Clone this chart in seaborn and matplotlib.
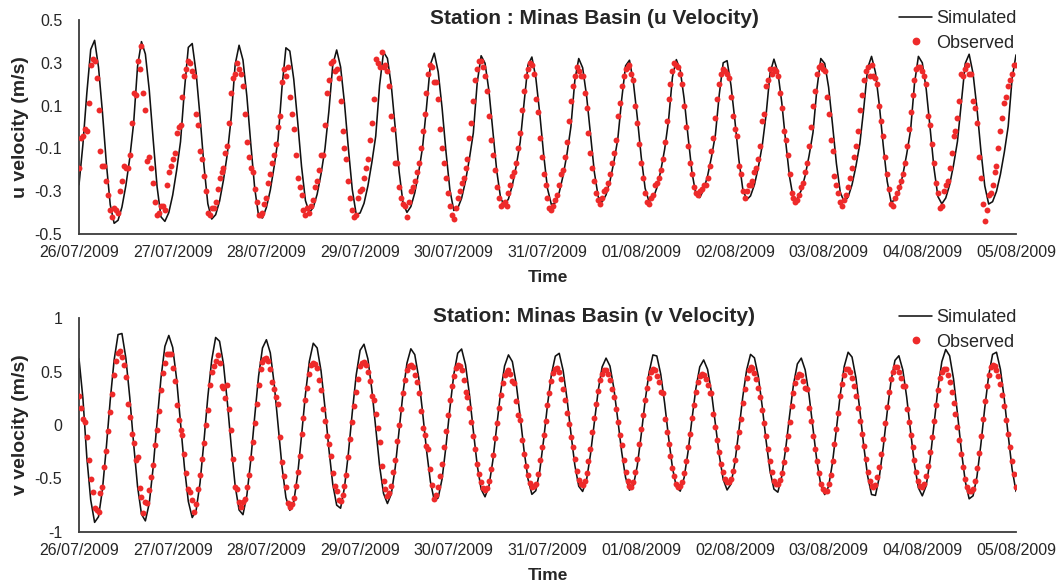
import numpy as np
import pandas as pd
import matplotlib
matplotlib.use("Agg")
import matplotlib.pyplot as plt
from matplotlib.lines import Line2D
import seaborn as sns

sns.set_theme(style="white")
plt.rcParams['font.family'] = ['Liberation Sans', 'DejaVu Sans']

# ---------------- data ----------------
start = pd.Timestamp("2009-07-26 00:00")
end = pd.Timestamp("2009-08-05 00:00")
date_labels = ["26/07/2009", "27/07/2009", "28/07/2009", "29/07/2009", "30/07/2009",
               "31/07/2009", "01/08/2009", "02/08/2009", "03/08/2009", "04/08/2009",
               "05/08/2009"]
u_ticks = [-0.5, -0.3, -0.1, 0.1, 0.3, 0.5]
u_tick_labels = ["-0.5", "-0.3", "-0.1", "0.1", "0.3", "0.5"]
v_ticks = [-1, -0.5, 0, 0.5, 1]
v_tick_labels = ["-1", "-0.5", "0", "0.5", "1"]
titles = ["Station : Minas Basin (u Velocity)", "Station: Minas Basin (v Velocity)"]
ylabels = ["u velocity (m/s)", "v velocity (m/s)"]
series_names = ["Simulated", "Observed"]

# simulated, hourly from 26/07/2009 00:00
u_sim = [
    -0.27, -0.082, 0.157, 0.362, 0.405, 0.279, 0.070, -0.168, -0.363, -0.450, -0.436, -0.374,
    -0.274, -0.146, 0.019, 0.284, 0.399, 0.341, 0.172, -0.059, -0.279, -0.420, -0.441, -0.400,
    -0.318, -0.203, -0.069, 0.172, 0.372, 0.390, 0.253, 0.048, -0.180, -0.359, -0.430, -0.410,
    -0.347, -0.248, -0.125, 0.048, 0.292, 0.382, 0.313, 0.143, -0.079, -0.285, -0.415, -0.425,
    -0.376, -0.295, -0.183, -0.055, 0.187, 0.370, 0.355, 0.224, 0.027, -0.184, -0.344, -0.400,
    -0.376, -0.314, -0.219, -0.102, 0.073, 0.291, 0.360, 0.281, 0.112, -0.101, -0.293, -0.408,
    -0.402, -0.357, -0.275, -0.167, -0.043, 0.196, 0.350, 0.321, 0.192, -0.004, -0.209, -0.356,
    -0.399, -0.372, -0.308, -0.212, -0.095, 0.090, 0.292, 0.345, 0.258, 0.089, -0.116, -0.294,
    -0.390, -0.380, -0.333, -0.253, -0.147, -0.028, 0.208, 0.333, 0.298, 0.169, -0.016, -0.205,
    -0.334, -0.365, -0.336, -0.272, -0.181, -0.071, 0.113, 0.290, 0.327, 0.231, 0.066, -0.126,
    -0.288, -0.363, -0.354, -0.306, -0.227, -0.125, 0.002, 0.218, 0.320, 0.277, 0.147, -0.034,
    -0.211, -0.327, -0.350, -0.317, -0.253, -0.163, -0.057, 0.129, 0.286, 0.312, 0.208, 0.045,
    -0.139, -0.286, -0.349, -0.335, -0.285, -0.206, -0.105, 0.030, 0.233, 0.315, 0.265, 0.132,
    -0.044, -0.211, -0.315, -0.330, -0.293, -0.229, -0.140, -0.037, 0.153, 0.300, 0.310, 0.194,
    0.030, -0.150, -0.288, -0.340, -0.322, -0.270, -0.188, -0.087, 0.059, 0.252, 0.317, 0.257,
    0.115, -0.067, -0.233, -0.338, -0.334, -0.296, -0.227, -0.134, -0.026, 0.177, 0.320, 0.297,
    0.186, 0.012, -0.171, -0.306, -0.350, -0.327, -0.270, -0.183, -0.078, 0.086, 0.275, 0.330,
    0.255, 0.102, -0.087, -0.253, -0.350, -0.342, -0.299, -0.225, -0.127, -0.015, 0.203, 0.330,
    0.300, 0.177, -0.005, -0.193, -0.325, -0.359, -0.332, -0.270, -0.178, -0.068, 0.113, 0.297,
    0.340, 0.250, 0.087, -0.109, -0.275, -0.360, -0.349, -0.301, -0.222, -0.119, 0.003, 0.227,
    0.337,
]
v_sim = [
    0.62, 0.25, -0.30, -0.70, -0.91, -0.857, -0.605, -0.209, 0.233, 0.608, 0.845, 0.855,
    0.626, 0.259, -0.178, -0.575, -0.833, -0.896, -0.730, -0.395, 0.031, 0.440, 0.735, 0.837,
    0.725, 0.430, 0.023, -0.392, -0.714, -0.865, -0.798, -0.541, -0.154, 0.264, 0.609, 0.818,
    0.783, 0.571, 0.212, -0.201, -0.568, -0.794, -0.838, -0.656, -0.327, 0.078, 0.457, 0.720,
    0.797, 0.674, 0.382, -0.005, -0.390, -0.678, -0.798, -0.720, -0.466, -0.100, 0.287, 0.595,
    0.764, 0.720, 0.505, 0.162, -0.223, -0.554, -0.749, -0.778, -0.583, -0.264, 0.119, 0.467,
    0.698, 0.755, 0.617, 0.333, -0.031, -0.385, -0.640, -0.734, -0.644, -0.396, -0.051, 0.303,
    0.578, 0.712, 0.658, 0.445, 0.122, -0.232, -0.527, -0.705, -0.681, -0.503, -0.197, 0.156,
    0.472, 0.671, 0.710, 0.563, 0.287, -0.053, -0.377, -0.600, -0.671, -0.571, -0.332, -0.012,
    0.309, 0.551, 0.655, 0.592, 0.383, 0.081, -0.241, -0.504, -0.648, -0.614, -0.433, -0.141,
    0.188, 0.472, 0.643, 0.670, 0.510, 0.244, -0.078, -0.375, -0.572, -0.621, -0.514, -0.277,
    0.028, 0.326, 0.543, 0.625, 0.551, 0.342, 0.051, -0.252, -0.491, -0.609, -0.565, -0.379,
    -0.092, 0.223, 0.488, 0.655, 0.645, 0.476, 0.205, -0.113, -0.398, -0.579, -0.618, -0.491,
    -0.249, 0.053, 0.340, 0.543, 0.608, 0.520, 0.305, 0.011, -0.284, -0.508, -0.607, -0.552,
    -0.351, -0.057, 0.258, 0.513, 0.660, 0.628, 0.455, 0.173, -0.150, -0.431, -0.599, -0.628,
    -0.480, -0.224, 0.087, 0.376, 0.571, 0.625, 0.515, 0.277, -0.033, -0.338, -0.561, -0.650,
    -0.574, -0.352, -0.039, 0.288, 0.547, 0.680, 0.635, 0.441, 0.140, -0.195, -0.478, -0.650,
    -0.658, -0.484, -0.206, 0.119, 0.414, 0.604, 0.647, 0.516, 0.261, -0.061, -0.370, -0.587,
    -0.662, -0.567, -0.326, 0.003, 0.336, 0.591, 0.706, 0.647, 0.431, 0.109, -0.238, -0.526,
    -0.690, -0.662, -0.482, -0.182, 0.161, 0.461, 0.660, 0.680, 0.522, 0.244, -0.095, -0.412,
    -0.621,
]

# observed, every 30 minutes from 26/07/2009 00:00
u_obs = [
    -0.19, -0.05, -0.04, -0.01, -0.02, 0.11, 0.29,
    0.32, 0.31, 0.23, 0.08, -0.11, -0.18, -0.18, -0.25, -0.32, -0.39, -0.42, -0.38, -0.39, -0.40, -0.30, -0.25, -0.18, -0.19, -0.19, -0.13, 0.02, 0.16, 0.15, 0.31, 0.27,
    0.38, 0.16, 0.08, -0.16, -0.14, -0.19, -0.26, -0.35, -0.41, -0.40, -0.37, -0.37, -0.39, -0.27, -0.21, -0.18, -0.15, -0.12, -0.03, 0.00, 0.01, 0.14, 0.24, 0.27, 0.31,
    0.30, 0.26, 0.24, 0.06, 0.01, -0.11, -0.15, -0.23, -0.30, -0.40, -0.41, -0.38, -0.38, -0.35, -0.29, -0.24, -0.21, -0.19, -0.12, -0.09, 0.02, 0.16, 0.23, 0.25, 0.30,
    0.27, 0.25, 0.19, 0.06, -0.07, -0.14, -0.19, -0.21, -0.29, -0.35, -0.41, -0.41, -0.40, -0.36, -0.33, -0.26, -0.22, -0.17, -0.13, -0.08, 0.00, 0.05, 0.21, 0.27, 0.24,
    0.28, 0.14, 0.06, -0.01, -0.13, -0.24, -0.28, -0.32, -0.39, -0.41, -0.38, -0.40, -0.37, -0.34, -0.28, -0.25, -0.20, -0.13, -0.13, 0.01, 0.16, 0.22, 0.30, 0.31,
    0.26, 0.27, 0.23, 0.12, -0.02, -0.10, -0.15, -0.25, -0.33, -0.39, -0.42, -0.41, -0.33, -0.30, -0.29, -0.24, -0.19, -0.15, -0.06, 0.02, 0.13, 0.32, 0.30, 0.28, 0.35,
    0.28, 0.29, 0.26, 0.19, 0.05, -0.01, -0.17, -0.17, -0.28, -0.33, -0.36, -0.37, -0.42, -0.35, -0.30, -0.28, -0.25, -0.21, -0.17, -0.10, -0.02, 0.06, 0.16, 0.25, 0.29,
    0.28, 0.21, 0.21, 0.13, -0.01, -0.10, -0.17, -0.24, -0.31, -0.37, -0.41, -0.43, -0.38, -0.33, -0.30, -0.26, -0.24, -0.19, -0.15, -0.05, 0.02, 0.12, 0.22, 0.27, 0.31,
    0.31, 0.28, 0.24, 0.17, 0.05, -0.06, -0.13, -0.20, -0.28, -0.33, -0.37, -0.36, -0.35, -0.37, -0.31, -0.27, -0.23, -0.21, -0.17, -0.10, -0.03, 0.08, 0.17, 0.24, 0.27,
    0.30, 0.29, 0.25, 0.13, 0.07, -0.05, -0.14, -0.22, -0.27, -0.33, -0.38, -0.39, -0.37, -0.34, -0.32, -0.27, -0.22, -0.20, -0.14, -0.07, 0.03, 0.12, 0.19, 0.24, 0.28,
    0.26, 0.24, 0.24, 0.16, 0.09, -0.03, -0.12, -0.19, -0.25, -0.31, -0.34, -0.36, -0.33, -0.30, -0.29, -0.26, -0.22, -0.17, -0.12, -0.06, 0.05, 0.11, 0.19, 0.24, 0.27,
    0.28, 0.29, 0.25, 0.22, 0.10, 0.02, -0.08, -0.17, -0.24, -0.31, -0.35, -0.36, -0.33, -0.32, -0.27, -0.26, -0.24, -0.20, -0.15, -0.07, 0.03, 0.13, 0.20, 0.26, 0.30,
    0.29, 0.28, 0.25, 0.20, 0.10, 0.00, -0.09, -0.17, -0.22, -0.28, -0.31, -0.32, -0.30, -0.29, -0.27, -0.27, -0.24, -0.18, -0.11, -0.05, 0.04, 0.13, 0.20, 0.25, 0.27,
    0.26, 0.25, 0.23, 0.14, 0.05, -0.01, -0.04, -0.18, -0.22, -0.30, -0.33, -0.30, -0.27, -0.27, -0.25, -0.21, -0.19, -0.15, -0.09, 0.03, 0.06, 0.19, 0.22, 0.27, 0.25,
    0.27, 0.26, 0.24, 0.16, 0.09, -0.02, -0.06, -0.13, -0.22, -0.31, -0.33, -0.35, -0.34, -0.32, -0.28, -0.26, -0.21, -0.17, -0.09, 0.00, 0.10, 0.17, 0.25, 0.28,
    0.29, 0.27, 0.26, 0.14, 0.06, -0.06, -0.11, -0.23, -0.27, -0.31, -0.35, -0.37, -0.34, -0.32, -0.28, -0.24, -0.19, -0.14, -0.09, -0.02, 0.08, 0.15, 0.22, 0.26, 0.28,
    0.24, 0.29, 0.24, 0.23, 0.20, 0.10, 0.03, -0.04, -0.14, -0.22, -0.29, -0.36, -0.37, -0.33, -0.31, -0.28, -0.25, -0.22, -0.17, -0.09, -0.01, 0.07, 0.15, 0.22, 0.27,
    0.28, 0.28, 0.26, 0.24, 0.20, 0.05, 0.01, -0.08, -0.17, -0.26, -0.31, -0.38, -0.37, -0.30, -0.27, -0.25, -0.19, -0.12, -0.04, -0.02, 0.04, 0.12, 0.25, 0.24, 0.27,
    0.29, 0.25, 0.25, 0.12, 0.09, 0.02, -0.14, -0.24, -0.36, -0.44, -0.39, -0.32, -0.31, -0.27, -0.21, -0.18, -0.10, -0.02, 0.04, 0.11, 0.14, 0.19, 0.22, 0.25, 0.29,
    0.29,
]
v_obs = [
    0.27, 0.16, 0.06, 0.03, -0.11, -0.33, -0.50, -0.63, -0.78,
    -0.79, -0.81, -0.64, -0.58, -0.39, -0.24, -0.06, 0.12, 0.29, 0.47, 0.60, 0.675, 0.69, 0.64, 0.565, 0.45, 0.20, 0.075, -0.08, -0.17, -0.325, -0.30, -0.59, -0.67, -0.825,
    -0.72, -0.73, -0.61, -0.49, -0.37, -0.19, -0.05, 0.13, 0.33, 0.49, 0.58, 0.66, 0.66, 0.66, 0.53, 0.41, 0.19, 0.05, -0.05, -0.09, -0.27, -0.45, -0.60, -0.63, -0.70,
    -0.81, -0.74, -0.60, -0.47, -0.32, -0.17, 0.00, 0.14, 0.37, 0.50, 0.55, 0.60, 0.65, 0.58, 0.36, 0.35, 0.25, 0.37, 0.15, -0.05, -0.32, -0.58, -0.60, -0.72, -0.77,
    -0.72, -0.69, -0.58, -0.47, -0.31, -0.16, 0.02, 0.20, 0.37, 0.52, 0.59, 0.62, 0.63, 0.60, 0.52, 0.40, 0.34, 0.26, 0.20, -0.11, -0.35, -0.48, -0.58, -0.73, -0.77,
    -0.74, -0.68, -0.57, -0.44, -0.29, -0.08, 0.07, 0.23, 0.35, 0.48, 0.56, 0.58, 0.57, 0.53, 0.42, 0.33, 0.15, 0.04, -0.10, -0.18, -0.29, -0.45, -0.57, -0.62, -0.70,
    -0.71, -0.65, -0.57, -0.47, -0.30, -0.13, 0.03, 0.18, 0.31, 0.43, 0.55, 0.58, 0.59, 0.56, 0.50, 0.41, 0.27, 0.23, 0.10, -0.03, -0.16, -0.38, -0.52, -0.60,
    -0.66, -0.64, -0.57, -0.44, -0.33, -0.15, 0.00, 0.15, 0.30, 0.42, 0.51, 0.55, 0.56, 0.54, 0.47, 0.40, 0.30, 0.13, -0.03, -0.09, -0.20, -0.22, -0.41, -0.56, -0.69,
    -0.65, -0.58, -0.48, -0.36, -0.21, -0.06, 0.09, 0.23, 0.36, 0.46, 0.53, 0.56, 0.55, 0.51, 0.42, 0.31, 0.26, 0.16, 0.03, -0.10, -0.22, -0.36, -0.46, -0.53, -0.59,
    -0.61, -0.59, -0.52, -0.41, -0.28, -0.12, 0.02, 0.16, 0.28, 0.39, 0.47, 0.50, 0.51, 0.48, 0.41, 0.39, 0.22, 0.09, 0.05, -0.14, -0.27, -0.38, -0.47, -0.54, -0.58,
    -0.57, -0.55, -0.46, -0.33, -0.21, -0.09, 0.04, 0.19, 0.30, 0.41, 0.49, 0.52, 0.53, 0.50, 0.43, 0.34, 0.23, 0.11, 0.01, -0.11, -0.21, -0.32, -0.43, -0.51, -0.55,
    -0.56, -0.52, -0.45, -0.34, -0.22, -0.07, 0.07, 0.20, 0.32, 0.42, 0.48, 0.51, 0.51, 0.48, 0.42, 0.34, 0.26, 0.15, 0.03, -0.09, -0.19, -0.33, -0.44, -0.52, -0.57,
    -0.58, -0.53, -0.44, -0.32, -0.18, -0.04, 0.09, 0.23, 0.35, 0.44, 0.50, 0.52, 0.51, 0.46, 0.40, 0.31, 0.30, 0.06, -0.07, -0.18, -0.29, -0.40, -0.48, -0.55, -0.58,
    -0.57, -0.53, -0.45, -0.34, -0.21, -0.08, 0.07, 0.19, 0.31, 0.40, 0.46, 0.48, 0.47, 0.43, 0.37, 0.30, 0.30, 0.10, -0.02, -0.14, -0.25, -0.36, -0.44, -0.50, -0.53,
    -0.53, -0.50, -0.43, -0.33, -0.21, -0.07, 0.06, 0.21, 0.34, 0.44, 0.51, 0.54, 0.53, 0.49, 0.43, 0.35, 0.26, 0.14, 0.02, -0.10, -0.22, -0.34, -0.44, -0.52, -0.55,
    -0.55, -0.51, -0.45, -0.35, -0.22, -0.10, 0.03, 0.18, 0.30, 0.39, 0.45, 0.48, 0.47, 0.41, 0.35, 0.34, 0.16, 0.04, -0.10, -0.22, -0.34, -0.45, -0.55, -0.60, -0.62,
    -0.62, -0.55, -0.47, -0.34, -0.18, -0.04, 0.11, 0.27, 0.38, 0.47, 0.52, 0.52, 0.50, 0.44, 0.36, 0.27, 0.16, 0.04, -0.08, -0.20, -0.32, -0.44, -0.52, -0.57,
    -0.58, -0.56, -0.49, -0.39, -0.27, -0.13, 0.02, 0.17, 0.31, 0.43, 0.50, 0.54, 0.54, 0.50, 0.44, 0.36, 0.36, 0.15, 0.03, -0.09, -0.21, -0.33, -0.44, -0.52, -0.57,
    -0.58, -0.55, -0.48, -0.38, -0.25, -0.11, 0.04, 0.19, 0.33, 0.44, 0.50, 0.52, 0.52, 0.47, 0.40, 0.31, 0.21, 0.10, -0.02, -0.14, -0.27, -0.39, -0.50, -0.58, -0.62,
    -0.62, -0.60, -0.52, -0.40, -0.26, -0.10, 0.06, 0.22, 0.36, 0.47, 0.54, 0.56, 0.55, 0.51, 0.46, 0.38, 0.28, 0.18, 0.05, -0.08, -0.21, -0.34, -0.46, -0.58,
]

sim_time = start + pd.to_timedelta(np.arange(len(u_sim)), unit="h")
obs_time_u = start + pd.to_timedelta(np.arange(len(u_obs)) * 30, unit="min")
obs_time_v = start + pd.to_timedelta(np.arange(len(v_obs)) * 30, unit="min")

# ---------------- styling ----------------
W, H = 1063, 585
LINE_C = "#111111"
DOT_C = "#EE2A2A"
AX_C = "#3c3c3c"
TXT_C = "#262626"

fig = plt.figure(figsize=(W / 100, H / 100), dpi=100)
ax_u = fig.add_axes([79 / W, 1 - 234 / H, 937 / W, 214 / H])
ax_v = fig.add_axes([79 / W, 1 - 532 / H, 937 / W, 214 / H])

panels = [
    (ax_u, u_sim, obs_time_u, u_obs, (-0.5, 0.5), u_ticks, u_tick_labels, 18.5, 10),
    (ax_v, v_sim, obs_time_v, v_obs, (-1, 1), v_ticks, v_tick_labels, 316, 309),
]
day_ticks = pd.date_range(start, end, freq="D")

for i, (ax, sim, ot, obs, ylim, yt, ytl, title_y, legend_top) in enumerate(panels):
    sns.lineplot(x=sim_time, y=sim, ax=ax, color=LINE_C, linewidth=1.15, legend=False, zorder=2)
    sns.scatterplot(x=ot, y=obs, ax=ax, color=DOT_C, s=18, linewidth=0, legend=False, zorder=3)
    ax.set_xlim(start, end)
    ax.set_ylim(*ylim)
    ax.set_xticks(day_ticks)
    ax.set_xticklabels(date_labels)
    ax.set_yticks(yt)
    ax.set_yticklabels(ytl)
    for side in ["top", "right"]:
        ax.spines[side].set_visible(False)
    for side in ["left", "bottom"]:
        ax.spines[side].set_color(AX_C)
        ax.spines[side].set_linewidth(1.3)
    ax.tick_params(axis="both", direction="in", length=5, width=1.3, color=AX_C,
                   labelsize=11.5, labelcolor=TXT_C)
    ax.tick_params(axis="x", pad=8)
    ax.tick_params(axis="y", pad=12)
    ax.set_xlabel("Time", fontsize=12.5, fontweight="bold", color=TXT_C, va="center")
    ax.xaxis.set_label_coords(0.5, -0.205)
    ax.set_ylabel(ylabels[i], fontsize=14, fontweight="bold", color=TXT_C, va="center")
    ax.yaxis.set_label_coords(-(79 - 20.5) / 937, 0.5)
    ax.set_facecolor("white")
    ax.grid(False)

    fig.text(594 / W, 1 - title_y / H, titles[i], ha="center", va="center",
             fontsize=15, fontweight="bold", color=TXT_C)

    handles = [Line2D([], [], color=LINE_C, linewidth=1.15),
               Line2D([], [], color=DOT_C, marker="o", linestyle="", markersize=4.6)]
    ax.legend(handles=handles, labels=series_names, loc="upper left",
              bbox_to_anchor=(899 / W, 1 - legend_top / H), bbox_transform=fig.transFigure,
              frameon=False, fontsize=13, handlelength=1.85, handletextpad=0.2,
              labelspacing=0.42, borderpad=0, borderaxespad=0, labelcolor=TXT_C)

fig.patch.set_facecolor("white")
fig.savefig("out.png", dpi=100, facecolor="white")
